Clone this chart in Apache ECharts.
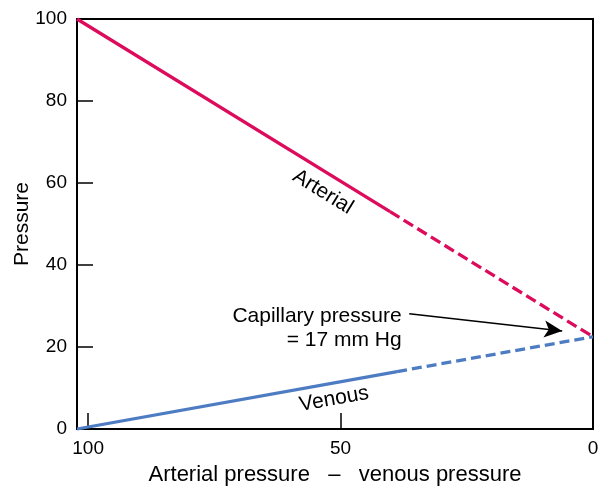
<!DOCTYPE html>
<html>
<head>
<meta charset="utf-8">
<script src="https://cdn.jsdelivr.net/npm/echarts@6/dist/echarts.min.js"></script>
<style>
html,body{margin:0;padding:0;background:#fff;}
#chart{width:603px;height:488px;}
</style>
</head>
<body>
<div id="chart"></div>
<script>
// ---- data ----
const xTickValues = [0, 50, 100];
const yTickValues = [0, 20, 40, 60, 80, 100];
const arterialSolid = [[102.2, 100], [40.2, 53.0]];
const arterialDashed = [[40.2, 53.0], [0, 22.5]];
const venousSolid = [[102.2, 0], [38.8, 14.0]];
const venousDashed = [[38.8, 14.0], [0, 22.5]];
const arrowFrom = [36.4, 28.1];
const arrowTo = [6.1, 23.9];
const arterialLabelAt = [53.5, 57.8];
const venousLabelAt = [51.3, 7.3];
const capillaryLabelAt = [37.8, 24.6];
const xTitle = 'Arterial pressure   \u2013   venous pressure';
const yTitle = 'Pressure';

const FONT = '"Liberation Sans", Arial, sans-serif';
const PINK = '#dc0b5c';
const BLUE = '#4d7cc3';

const chart = echarts.init(document.getElementById('chart'), null, {renderer: 'canvas'});

function labelPoint(coord, text, rotate, extra) {
  return {
    coord: coord,
    symbol: 'circle',
    symbolSize: 1,
    itemStyle: {color: 'rgba(0,0,0,0)'},
    label: Object.assign({
      show: true,
      position: 'inside',
      formatter: text,
      rotate: rotate,
      color: '#000',
      fontSize: 21,
      fontFamily: FONT
    }, extra || {})
  };
}

chart.setOption({
  animation: false,
  backgroundColor: '#fff',
  grid: {
    left: 77, right: 10, top: 19, bottom: 59,
    containLabel: false,
    outerBoundsMode: 'none',
    show: true, borderColor: '#000', borderWidth: 2
  },
  xAxis: {
    type: 'value',
    inverse: true,
    min: 0,
    max: 102.2,
    name: xTitle,
    nameLocation: 'middle',
    nameGap: 35,
    nameMoveOverlap: false,
    nameTextStyle: {color: '#000', fontSize: 22, fontFamily: FONT},
    axisLine: {show: true, onZero: false, lineStyle: {color: '#000', width: 2}},
    axisTick: {show: true, inside: true, length: 16, customValues: xTickValues,
               lineStyle: {color: '#000', width: 1.5}},
    axisLabel: {customValues: xTickValues, color: '#000', fontSize: 19, fontFamily: FONT, margin: 10},
    splitLine: {show: false}
  },
  yAxis: {
    type: 'value',
    min: 0,
    max: 100,
    interval: 20,
    name: yTitle,
    nameLocation: 'middle',
    nameGap: 44,
    nameMoveOverlap: false,
    nameTextStyle: {color: '#000', fontSize: 21, fontFamily: FONT},
    axisLine: {show: true, onZero: false, lineStyle: {color: '#000', width: 2}},
    axisTick: {show: true, inside: true, length: 16, customValues: [20, 40, 60, 80],
               lineStyle: {color: '#000', width: 1.5}},
    axisLabel: {customValues: yTickValues, color: '#000', fontSize: 19, fontFamily: FONT, margin: 10},
    splitLine: {show: false}
  },
  series: [
    {
      type: 'line', data: arterialSolid, showSymbol: false, symbol: 'none',
      lineStyle: {color: PINK, width: 3.3, cap: 'butt'},
      markPoint: {silent: true, data: [labelPoint(arterialLabelAt, 'Arterial', -31.6)]}
    },
    {
      type: 'line', data: arterialDashed, showSymbol: false, symbol: 'none',
      lineStyle: {color: PINK, width: 3.3, type: [11, 5], cap: 'butt'}
    },
    {
      type: 'line', data: venousSolid, showSymbol: false, symbol: 'none',
      lineStyle: {color: BLUE, width: 3.3, cap: 'butt'},
      markPoint: {silent: true, data: [labelPoint(venousLabelAt, 'Venous', 10.1)]}
    },
    {
      type: 'line', data: venousDashed, showSymbol: false, symbol: 'none',
      lineStyle: {color: BLUE, width: 3.3, type: [10, 5], cap: 'butt'},
      markPoint: {silent: true, data: [labelPoint(capillaryLabelAt, 'Capillary pressure\n= 17 mm Hg', 0,
        {position: 'left', distance: 0, lineHeight: 24, align: 'right'})]},
      markLine: {
        silent: true,
        symbol: ['none', 'arrow'],
        symbolSize: [13, 18],
        label: {show: false},
        lineStyle: {color: '#000', width: 1.5, type: 'solid'},
        data: [[{coord: arrowFrom}, {coord: arrowTo}]]
      }
    }
  ]
});
</script>
</body>
</html>
